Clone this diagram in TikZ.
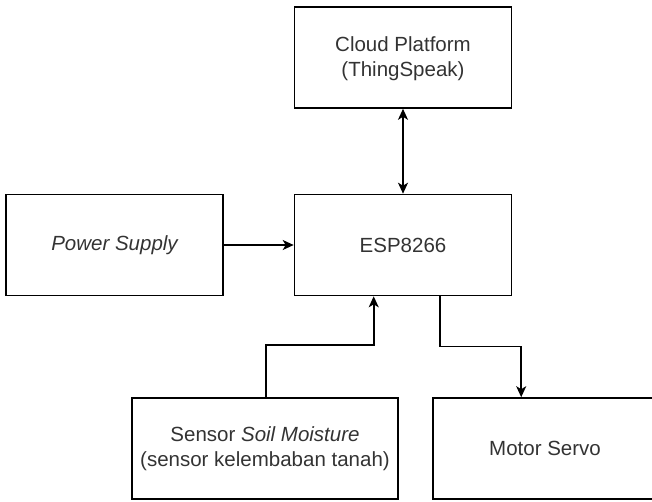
\documentclass[tikz,border=0pt]{standalone}
\usepackage{fontspec}
\setmainfont{Liberation Sans}
\usetikzlibrary{arrows.meta,calc}
\definecolor{txt}{RGB}{51,51,51}
\begin{document}
\begin{tikzpicture}[x=1pt,y=1pt,
  box/.style={draw=black, line width=1.6pt, rectangle, minimum width=217pt, minimum height=101pt,
    inner sep=0pt, align=center, text=txt, font=\fontsize{20.5}{25}\selectfont},
  arr/.style={line width=1.6pt, -{Stealth[length=11pt,width=10pt,inset=3pt]}},
  darr/.style={line width=1.6pt, {Stealth[length=11pt,width=10pt,inset=3pt]}-{Stealth[length=11pt,width=10pt,inset=3pt]}}]
\useasboundingbox (0,0) rectangle (652,-501);
\node[box] (cloud) at (403,-57.5) {\strut Cloud Platform\\(ThingSpeak)};
\node[box] (esp) at (403,-245) {ESP8266};
\node[box] (power) at (114.5,-245) {\itshape Power Supply};
\node[box, minimum width=266pt] (sensor) at (265,-448.5) {Sensor \textit{Soil Moisture}\\(sensor kelembaban tanah)};
\node[box, minimum width=224pt] (motor) at (545,-448.5) {Motor Servo};
\draw[darr] (cloud.south) -- (esp.north);
\draw[arr] (power.east) -- (esp.west);
\draw[arr] ([xshift=135pt]sensor.north west) -- ++(0,52pt) -| ([xshift=80pt]esp.south west);
\draw[arr] ([xshift=146pt]esp.south west) -- ++(0,-50pt) -| ([xshift=89pt]motor.north west);
\end{tikzpicture}
\end{document}
